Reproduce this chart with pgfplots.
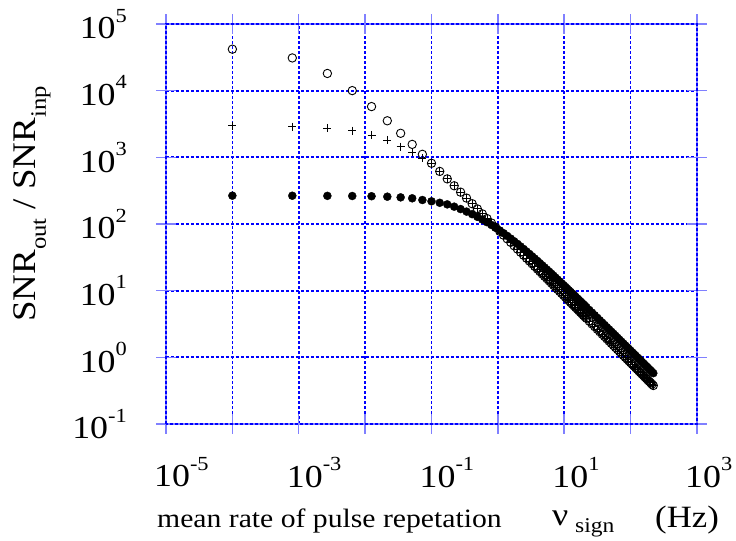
\documentclass[border=0pt]{standalone}
\usepackage{fontspec}
\setmainfont{Liberation Serif}[FakeStretch=1.12]
\usepackage{pgfplots}
\usepackage{pgfplotstable}
\pgfplotsset{compat=1.18}

% 10 with a raised exponent, set in text (hyphen as minus, as in the original)
\newcommand\tlab[1]{10\raisebox{0.52em}{\fontsize{20bp}{20bp}\selectfont #1}}

% x: rate (Hz); a: open circles; p: plus marks; f: filled circles
\pgfplotstableread{
x a p f
0.0001 41900 2990 266
0.0008 30970 2890 265.5
0.0027 18120 2755 264.4
0.0064 10020 2515 263
0.0125 5772 2163 261
0.0216 3535 1820 257
0.0343 2294 1446 251
0.0512 1564 1189 243
0.0729 1110 966 229
0.1 815 813 219
0.1331 615 615 208
0.1728 475 475 197
0.2197 374.6 374.6 182
0.2744 300.4 300.4 167.5
0.3375 244.6 244.6 153.5
0.4096 201.7 201.7 140.5
0.4913 168.3 168.3 128.1
0.5832 141.9 141.9 116.8
0.6859 120.7 120.7 106.4
0.8 103.5 103.5 96.7
0.9261 89.44 89.44 87.96
1.0648 77.81 77.81 79.99
1.2167 68.11 68.11 72.77
1.3824 59.96 59.96 66.25
1.5625 53.06 53.06 60.38
1.7576 47.17 47.17 55.09
1.9683 42.13 42.13 50.33
2.1952 37.78 37.78 46.06
2.4389 34.01 34.01 42.21
2.7 30.72 30.72 38.75
2.9791 27.86 27.86 35.62
3.2768 25.31 25.31 32.80
3.5937 23.10 23.10 30.26
3.9304 21.11 21.11 27.95
4.2875 19.36 19.36 25.87
4.6656 17.78 17.78 23.97
5.0653 16.386 16.386 22.25
5.4872 15.12 15.12 20.69
5.9319 13.992 13.992 19.26
6.4 12.965 12.965 17.96
6.8921 12.043 12.043 16.76
7.4088 11.20 11.20 15.67
7.9507 10.439 10.439 14.67
8.5184 9.742 9.742 13.75
9.1125 9.108 9.108 12.91
9.7336 8.526 8.526 12.13
10.3823 7.994 7.994 11.41
11.0592 7.504 7.504 10.74
11.7649 7.055 7.055 10.13
12.5 6.639 6.639 9.558
13.2651 6.257 6.257 9.031
14.0608 5.902 5.902 8.540
14.8877 5.575 5.575 8.085
15.7464 5.270 5.270 7.660
16.6375 4.989 4.989 7.265
17.5616 4.726 4.726 6.895
18.5193 4.482 4.482 6.551
19.5112 4.254 4.254 6.228
20.5379 4.041 4.041 5.927
21.6 3.842 3.842 5.644
23.8328 3.483 3.483 5.129
26.2144 3.166 3.166 4.676
28.7496 2.887 2.887 4.274
31.4432 2.640 2.640 3.916
34.3 2.420 2.420 3.598
37.3248 2.224 2.224 3.312
40.5224 2.048 2.048 3.056
43.8976 1.891 1.891 2.826
47.4552 1.749 1.749 2.618
51.2 1.621 1.621 2.430
55.1368 1.505 1.505 2.260
59.2704 1.400 1.400 2.105
63.6056 1.305 1.305 1.964
68.1472 1.218 1.218 1.835
72.9 1.1385 1.1385 1.717
77.8688 1.066 1.066 1.609
83.0584 0.9993 0.9993 1.510
88.4736 0.9381 0.9381 1.419
94.1192 0.8819 0.8819 1.335
100 0.8300 0.8300 1.258
106.1208 0.7821 0.7821 1.186
112.4864 0.7379 0.7379 1.120
119.1016 0.6969 0.6969 1.0588
125.9712 0.6589 0.6589 1.0015
133.1 0.6236 0.6236 0.9490
140.4928 0.5908 0.5908 0.8993
148.1544 0.5602 0.5602 0.8537
156.0896 0.5317 0.5317 0.8107
164.3032 0.5052 0.5052 0.7708
172.8 0.4803 0.4803 0.7332
181.5848 0.4571 0.4571 0.6983
190.6624 0.4353 0.4353 0.6653
200.0376 0.4149 0.4149 0.6345
209.7152 0.3958 0.3958 0.6057
219.7 0.3778 0.3778 0.5785
}\snrdata

\begin{document}
\begin{tikzpicture}
\begin{axis}[
    scale only axis,
    width=531bp, height=400bp,
    xmode=log, ymode=log,
    xmin=1e-5, xmax=1e3,
    ymin=1e-1, ymax=1e5,
    xtick={1e-5,1e-4,1e-3,1e-2,1e-1,1,10,100,1000},
    xticklabels={\tlab{-5},,\tlab{-3},,\tlab{-1},,\tlab{1},,\tlab{3}},
    ytick={1e-1,1,10,100,1000,1e4,1e5},
    yticklabels={\tlab{-1},\tlab{0},\tlab{1},\tlab{2},\tlab{3},\tlab{4},\tlab{5}},
    minor tick num=0,
    minor tick style={draw=none},
    tick align=center,
    major tick length=20bp,
    tick style={blue!50, line width=1.5bp},
    grid=major,
    major grid style={blue, dash pattern=on 3bp off 2bp, line width=1.7bp},
    axis line style={blue!50, line width=2bp},
    ticklabel style={font=\fontsize{32bp}{36bp}\selectfont, inner sep=0pt},
    xticklabel style={anchor=north west, xshift=-12bp, yshift=-23bp},
    yticklabel style={anchor=east, xshift=-29bp},
    clip=false,
]
    \addplot[only marks, black, mark=*, mark size=4bp] table[x=x, y=f] {\snrdata};
    \addplot[only marks, black, mark=o, mark size=4.2bp, mark options={line width=0.9bp}] table[x=x, y=a] {\snrdata};
    \addplot[only marks, black, mark=+, mark size=4bp, mark options={line width=0.9bp}] table[x=x, y=p] {\snrdata};
    \coordinate (o) at (rel axis cs:0,0);
    \coordinate (q) at (rel axis cs:1,1);
\end{axis}
\draw[blue, dash pattern=on 3bp off 2bp, line width=1.7bp] (o) rectangle (q);

% axis titles
\node[rotate=90, anchor=base, inner sep=0pt, font=\fontsize{33bp}{38bp}\selectfont]
    at ([xshift=-130bp, yshift=220bp]o)
    {SNR\raisebox{-10bp}{\fontsize{22bp}{24bp}\selectfont out} / SNR\raisebox{-10bp}{\fontsize{22bp}{24bp}\selectfont inp}};
\node[anchor=base west, inner sep=0pt, font=\fontsize{26.5bp}{30bp}\selectfont]
    at ([xshift=-9bp, yshift=-103bp]o) {mean rate of pulse repetation};
\node[anchor=base west, inner sep=0pt, font=\fontsize{32bp}{36bp}\selectfont]
    at ([xshift=386bp, yshift=-101bp]o) {ν};
\node[anchor=base west, inner sep=0pt, font=\fontsize{21bp}{24bp}\selectfont]
    at ([xshift=409bp, yshift=-108bp]o) {sign};
\node[anchor=base west, inner sep=0pt, font=\fontsize{31bp}{36bp}\selectfont]
    at ([xshift=489bp, yshift=-103bp]o) {(Hz)};

\pgfresetboundingbox
\useasboundingbox ([xshift=-166bp, yshift=-117bp]o) rectangle ([xshift=570bp, yshift=424bp]o);
\end{tikzpicture}
\end{document}
